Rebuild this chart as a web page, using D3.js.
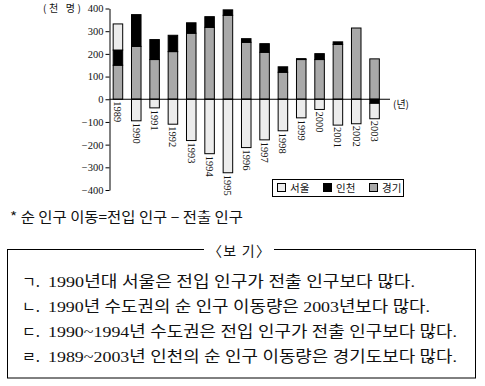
<!DOCTYPE html>
<html>
<head>
<meta charset="utf-8">
<script src="https://cdn.jsdelivr.net/npm/d3@7"></script>
<style>
  body { margin: 0; background: #fff; }
  text { fill: #111; }
  .serif { font-family: "Liberation Serif", "DejaVu Serif", "Noto Sans CJK KR", serif; }
  .kr { font-family: "Noto Sans CJK KR", sans-serif; }
</style>
</head>
<body>
<svg id="chart" width="485" height="386"></svg>
<script>
// data (unit: thousand persons)
const years = ["1989", "1990", "1991", "1992", "1993", "1994", "1995", "1996",
  "1997", "1998", "1999", "2000", "2001", "2002", "2003"];
const seoul = [115, -95, -38, -110, -182, -240, -324, -213, -179, -139, -82, -45, -114, -108, -68];
const incheon = [67, 140, 88, 72, 46, 47, 24, 16, 38, 24, 4, 26, 11, 0, -18];
const gyeonggi = [150, 233, 175, 210, 291, 317, 370, 251, 207, 119, 175, 175, 242, 314, 178];
const yTicks = [400, 300, 200, 100, 0, -100, -200, -300, -400];

const seriesKeys = ["gyeonggi", "incheon", "seoul"];
const seriesNames = { seoul: "서울", incheon: "인천", gyeonggi: "경기" };
const seriesColors = { seoul: "#ececec", incheon: "#000000", gyeonggi: "#a9a9a9" };

const notes = [
  ["ㄱ.", "1990년대 서울은 전입 인구가 전출 인구보다 많다."],
  ["ㄴ.", "1990년 수도권의 순 인구 이동량은 2003년보다 많다."],
  ["ㄷ.", "1990~1994년 수도권은 전입 인구가 전출 인구보다 많다."],
  ["ㄹ.", "1989~2003년 인천의 순 인구 이동량은 경기도보다 많다."]
];
const noteWidths = [367, 382, 409, 409];

const svg = d3.select("#chart");

// table for the stack
const rows = years.map((y, i) => ({ year: y, seoul: seoul[i], incheon: incheon[i], gyeonggi: gyeonggi[i] }));
const stacked = d3.stack().keys(seriesKeys).offset(d3.stackOffsetDiverging)(rows);

// scales
const yScale = d3.scaleLinear().domain([-400, 400]).range([190, 8.5]);
const xScale = d3.scaleBand().domain(years).range([109.5, 383]).paddingInner(0.48).paddingOuter(0.2);

// y axis
const yAxis = svg.append("g")
  .attr("class", "serif")
  .attr("transform", "translate(109.5,0)")
  .call(d3.axisLeft(yScale).tickValues(yTicks).tickSize(4).tickSizeOuter(0)
    .tickFormat(d => d < 0 ? "−" + Math.abs(d) : d));
yAxis.selectAll("text").style("font-size", "10.5px").attr("x", -6).attr("fill", "#111");
yAxis.selectAll("line, path").attr("stroke", "#000");

// bars
svg.append("g").selectAll("g")
  .data(stacked)
  .join("g")
  .attr("fill", d => seriesColors[d.key])
  .selectAll("rect")
  .data(d => d.filter(p => p[1] !== p[0]))
  .join("rect")
  .attr("x", d => xScale(d.data.year))
  .attr("y", d => yScale(Math.max(d[0], d[1])))
  .attr("width", xScale.bandwidth())
  .attr("height", d => Math.abs(yScale(d[0]) - yScale(d[1])))
  .attr("stroke", "#000")
  .attr("stroke-width", 1);

// zero line
svg.append("line")
  .attr("x1", 109.5).attr("x2", 390)
  .attr("y1", yScale(0)).attr("y2", yScale(0))
  .attr("stroke", "#000");

// year labels under the lowest point of each bar
const minByYear = years.map((y, i) => Math.min(0, seoul[i] < 0 ? seoul[i] + Math.min(0, incheon[i]) : Math.min(0, incheon[i])));
svg.append("g").selectAll("text")
  .data(years)
  .join("text")
  .attr("class", "serif")
  .attr("transform", (d, i) => `translate(${xScale(d) + xScale.bandwidth() / 2 - 3.5},${yScale(minByYear[i]) + 2}) rotate(90)`)
  .style("font-size", "10.5px")
  .text(d => d);

// unit labels
svg.append("text").attr("class", "kr").attr("x", 43).attr("y", 12)
  .style("font-size", "10px").attr("fill", "#333")
  .attr("textLength", 38).attr("lengthAdjust", "spacing").text("(천 명)");
svg.append("text").attr("class", "kr").attr("x", 393).attr("y", 108)
  .style("font-size", "10px").attr("fill", "#333").text("(년)");

// legend
const legend = svg.append("g");
legend.append("rect").attr("x", 272.5).attr("y", 179.5).attr("width", 131).attr("height", 17)
  .attr("fill", "#fff").attr("stroke", "#000");
const legendItems = ["seoul", "incheon", "gyeonggi"];
const legendX = [277, 323, 369];
legendItems.forEach((k, i) => {
  legend.append("rect").attr("x", legendX[i] + 0.5).attr("y", 183.5).attr("width", 8).attr("height", 8)
    .attr("fill", seriesColors[k]).attr("stroke", "#000");
  legend.append("text").attr("class", "kr").attr("x", legendX[i] + 13).attr("y", 192)
    .style("font-size", "10.5px").text(seriesNames[k]);
});

// footnote
svg.append("text").attr("class", "kr").attr("x", 10).attr("y", 222)
  .style("font-size", "13.5px").attr("textLength", 233).attr("lengthAdjust", "spacingAndGlyphs")
  .text("* 순 인구 이동=전입 인구 − 전출 인구");

// <보기> box
svg.append("rect").attr("x", 7.5).attr("y", 249.5).attr("width", 468).attr("height", 128.5)
  .attr("fill", "none").attr("stroke", "#000");
svg.append("rect").attr("x", 204).attr("y", 244).attr("width", 70).attr("height", 12).attr("fill", "#fff");
svg.append("text").attr("class", "kr").attr("x", 239).attr("y", 256)
  .attr("text-anchor", "middle").style("font-size", "14px")
  .attr("textLength", 62).attr("lengthAdjust", "spacing").text("〈보 기〉");

notes.forEach((n, i) => {
  const yy = 287 + i * 25;
  svg.append("text").attr("class", "kr").attr("x", 22).attr("y", yy)
    .style("font-size", "15px").text(n[0]);
  svg.append("text").attr("class", "serif").attr("x", 48).attr("y", yy)
    .style("font-size", "15.5px").attr("textLength", noteWidths[i]).attr("lengthAdjust", "spacingAndGlyphs")
    .text(n[1]);
});
</script>
</body>
</html>
